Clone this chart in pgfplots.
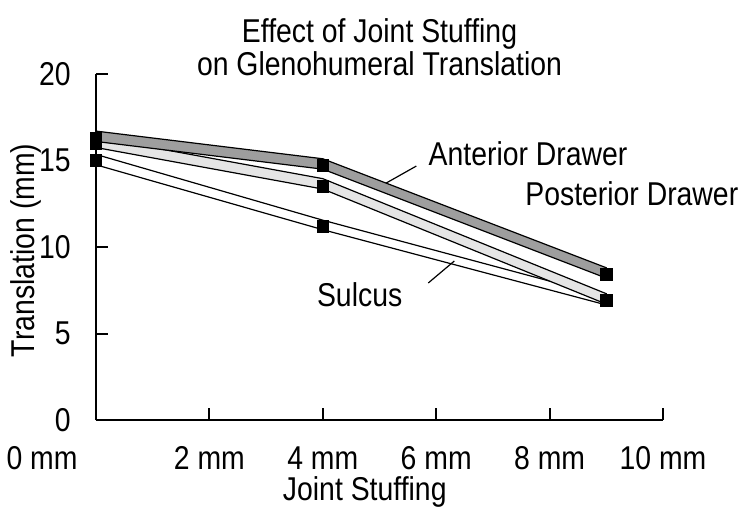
\documentclass[border=0pt]{standalone}
\usepackage{fontspec}
\setmainfont{Liberation Sans}[FakeStretch=0.86]
\usepackage{pgfplots}
\pgfplotsset{compat=1.18}

\begin{document}
\fontsize{16.5bp}{16.5bp}\selectfont
\begin{tikzpicture}
\useasboundingbox (-48bp,-45bp) rectangle (325bp,210bp);
\begin{axis}[
    at={(0,0)}, anchor=south west,
    scale only axis, width=283.5bp, height=173bp,
    xmin=0, xmax=10, ymin=0, ymax=20,
    axis lines=left,
    axis line style={-, line width=1bp},
    xtick={0,2,4,6,8,10},
    xticklabels={,2 mm,4 mm,6 mm,8 mm,10 mm},
    ytick={0,5,10,15,20},
    tick align=inside,
    major tick length=6bp,
    tick style={line width=1bp, black},
    xticklabel style={anchor=center, inner sep=0pt, yshift=-19bp},
    yticklabel style={anchor=east, xshift=-7bp},
    /pgf/number format/assume math mode=true,
    clip=false,
]
% Sulcus band
\addplot[draw=black, line width=0.6bp, fill=white]
    coordinates {(0,15.35) (4,11.55) (9,7.15) (9,6.65) (4,11.0) (0,14.75)} -- cycle;
% Posterior Drawer band
\addplot[draw=black, line width=0.6bp, fill=black!10]
    coordinates {(0,16.35) (4,13.95) (9,7.3) (9,6.7) (4,13.35) (0,15.75)} -- cycle;
% Anterior Drawer band
\addplot[draw=black, line width=0.6bp, fill=black!38]
    coordinates {(0,16.7) (4,15.1) (9,8.8) (9,8.2) (4,14.5) (0,16.1)} -- cycle;

% markers
\addplot[only marks, mark=square*, mark size=2.9bp, black]
    coordinates {(0,16.3) (4,14.7) (9,8.4)};
\addplot[only marks, mark=square*, mark size=2.9bp, black]
    coordinates {(0,15.95) (4,13.5) (9,6.9)};
\addplot[only marks, mark=square*, mark size=2.9bp, black]
    coordinates {(0,15.0) (4,11.2)};

% labels
\node at (axis cs:7.62,15.38) {Anterior Drawer};
\draw[line width=0.6bp] (axis cs:5.12,13.70) -- (axis cs:5.65,14.68);
\node at (axis cs:9.45,13.06) {Posterior Drawer};
\node at (axis cs:4.65,7.23) {Sulcus};
\draw[line width=0.6bp] (axis cs:5.86,7.92) -- (axis cs:6.32,9.19);

\node[inner sep=0pt] at (axis cs:0,0) [xshift=-27bp, yshift=-19bp] {0 mm};
\node[inner sep=0pt] at (axis cs:4.74,0) [yshift=-36bp] {Joint Stuffing};
\node[xshift=-35bp, rotate=90] at (axis cs:0,9.8) {Translation (mm)};
\node[align=center] at (rel axis cs:0.5,1) [yshift=13.25bp]
    {Effect of Joint Stuffing\\on Glenohumeral Translation};
\end{axis}
\end{tikzpicture}
\end{document}
